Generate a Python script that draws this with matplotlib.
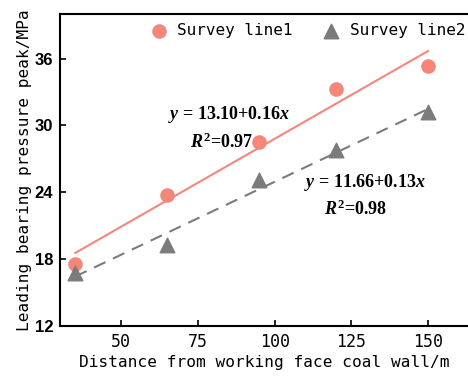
import numpy as np
import matplotlib
matplotlib.use("Agg")
import matplotlib.pyplot as plt

# distance from working face coal wall (m)
distance = [35, 65, 95, 120, 150]
# leading bearing pressure peak (MPa)
line1 = [17.6, 23.8, 28.5, 33.3, 35.3]
line2 = [16.8, 19.3, 25.1, 27.75, 31.2]

eq1 = r"$y$ = 13.10+0.16$x$"
r2_1 = r"$R^{\mathrm{2}}$=0.97"
eq2 = r"$y$ = 11.66+0.13$x$"
r2_2 = r"$R^{\mathrm{2}}$=0.98"

plt.rcParams["mathtext.fontset"] = "custom"
plt.rcParams["mathtext.rm"] = "Liberation Serif:bold"
plt.rcParams["mathtext.it"] = "Liberation Serif:italic:bold"
plt.rcParams["mathtext.bf"] = "Liberation Serif:bold"

c1 = "#f4877a"
c2 = "#7b7b7b"
mono = "DejaVu Sans Mono"

fig = plt.figure(figsize=(4.68, 3.78), dpi=100)
ax = fig.add_axes([60 / 468, 52 / 378, 408 / 468, 312 / 378])

x = np.array(distance)
xs = np.array([35, 150])

# linear fits
p1 = np.polyfit(x, line1, 1)
p2 = np.polyfit(x, line2, 1)
ax.plot(xs, np.polyval(p1, xs), color=c1, lw=1.5, zorder=2)
ax.plot(xs, np.polyval(p2, xs), color=c2, lw=1.5, ls=(0, (6, 4)), zorder=2)

ax.scatter(x, line1, s=90, color=c1, marker="o", label="Survey line1", zorder=3)
ax.scatter(x, line2, s=110, color=c2, marker="^", label="Survey line2", zorder=3)

txt = dict(fontsize=13, fontfamily="Liberation Serif", fontweight="bold",
           ha="center", va="center")
ax.text(85.2, 31.0, eq1, **txt)
ax.text(82.6, 28.5, r2_1, **txt)
ax.text(129.3, 24.85, eq2, **txt)
ax.text(126.4, 22.5, r2_2, **txt)

ax.set_xlim(30, 163)
ax.set_ylim(12, 40)
ax.set_xticks([50, 75, 100, 125, 150])
ax.set_yticks([12, 18, 24, 30, 36])
ax.tick_params(direction="in", length=4, width=1.2, pad=5)
for lab in ax.get_xticklabels():
    lab.set_fontfamily(mono)
    lab.set_fontsize(12)
for lab in ax.get_yticklabels():
    lab.set_fontfamily("Liberation Sans")
    lab.set_fontweight("bold")
    lab.set_fontsize(12)
for s in ax.spines.values():
    s.set_linewidth(1.5)
ax.spines["right"].set_visible(False)

ax.set_xlabel("Distance from working face coal wall/m", fontfamily=mono, fontsize=11.6, labelpad=3)
ax.set_ylabel("Leading bearing pressure peak/MPa", fontfamily=mono, fontsize=11.6, labelpad=2)

ax.legend(loc="upper left", bbox_to_anchor=(151 / 468, 1 - 23 / 378),
          bbox_transform=fig.transFigure, ncol=2, frameon=False,
          prop={"family": mono, "size": 11.5}, handlelength=1.0, handletextpad=0.65,
          columnspacing=1.9, borderaxespad=0, borderpad=0)

fig.savefig("out.png", dpi=100)
